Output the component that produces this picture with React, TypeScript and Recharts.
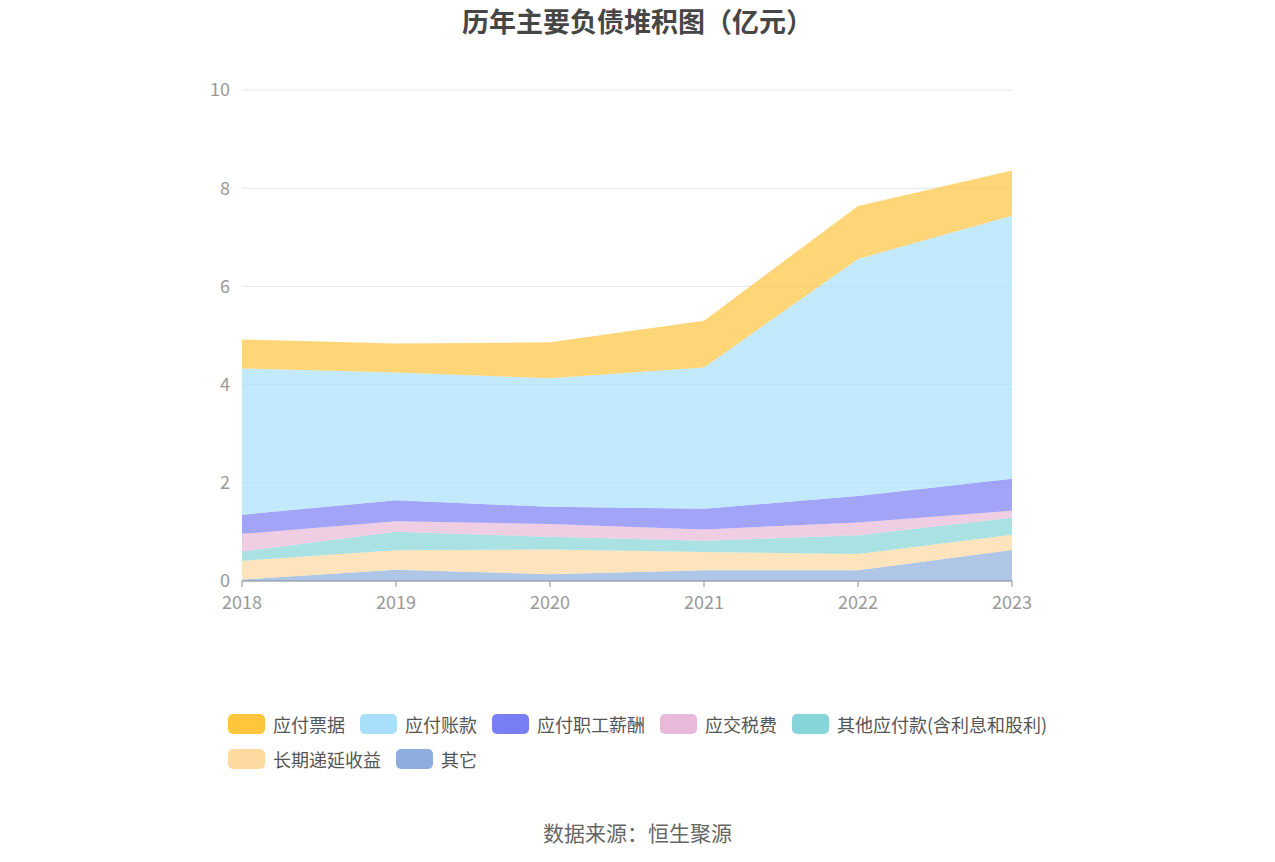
import { Area, AreaChart, CartesianGrid, XAxis, YAxis } from 'recharts';

const years = ['2018', '2019', '2020', '2021', '2022', '2023'];
const notesPayable = [0.59, 0.59, 0.73, 0.95, 1.08, 0.92];
const accountsPayable = [2.98, 2.6, 2.62, 2.88, 4.83, 5.36];
const staffPay = [0.39, 0.43, 0.35, 0.42, 0.54, 0.65];
const taxes = [0.36, 0.21, 0.26, 0.23, 0.26, 0.14];
const otherPayables = [0.19, 0.38, 0.26, 0.23, 0.38, 0.35];
const deferredIncome = [0.38, 0.395, 0.5, 0.37, 0.33, 0.31];
const others = [0.03, 0.23, 0.14, 0.22, 0.22, 0.63];
const yTicks = [0, 2, 4, 6, 8, 10];

const series = [
  { key: 'others', name: '其它', color: '#8daedc', values: others },
  { key: 'deferredIncome', name: '长期递延收益', color: '#fed9a0', values: deferredIncome },
  { key: 'otherPayables', name: '其他应付款(含利息和股利)', color: '#86d5d8', values: otherPayables },
  { key: 'taxes', name: '应交税费', color: '#e8b9d9', values: taxes },
  { key: 'staffPay', name: '应付职工薪酬', color: '#7a7ef5', values: staffPay },
  { key: 'accountsPayable', name: '应付账款', color: '#a8e0fb', values: accountsPayable },
  { key: 'notesPayable', name: '应付票据', color: '#ffc53d', values: notesPayable }
];

const legendRows = [
  ['notesPayable', 'accountsPayable', 'staffPay', 'taxes', 'otherPayables'],
  ['deferredIncome', 'others']
];

const data = years.map((year, i) => {
  const row: Record<string, number | string> = { year };
  series.forEach((s) => {
    row[s.key] = s.values[i];
  });
  return row;
});

const font = '"Noto Sans CJK SC", "Noto Sans", sans-serif';

export default function App() {
  return (
    <div style={{ position: 'absolute', left: 0, top: 0, width: 1275, height: 862, fontFamily: font, background: '#fff' }}>
      <div style={{ position: 'absolute', top: 2, width: 1275, textAlign: 'center', fontSize: 27, lineHeight: '38px', fontWeight: 'bold', color: '#464646' }}>
        历年主要负债堆积图（亿元）
      </div>
      <AreaChart width={1275} height={862} data={data} margin={{ top: 90, right: 263, left: 182, bottom: 251 }}>
        <CartesianGrid vertical={false} stroke="#e0e6f1" />
        <XAxis
          dataKey="year"
          height={30}
          stroke="#8a8f99"
          tickSize={6}
          tickMargin={9}
          tick={{ fill: '#999', fontSize: 18, fontFamily: font }}
        />
        <YAxis
          width={60}
          domain={[0, 10]}
          ticks={yTicks}
          axisLine={false}
          tickLine={false}
          tickMargin={6}
          tick={{ fill: '#999', fontSize: 18, fontFamily: font }}
        />
        {series.map((s) => (
          <Area
            key={s.key}
            type="linear"
            dataKey={s.key}
            name={s.name}
            stackId="a"
            stroke="none"
            fill={s.color}
            fillOpacity={0.7}
            isAnimationActive={false}
          />
        ))}
      </AreaChart>
      <div style={{ position: 'absolute', left: 228, top: 706, width: 900 }}>
        {legendRows.map((row, r) => (
          <div key={r} style={{ display: 'flex', height: 35, alignItems: 'center' }}>
            {row.map((k) => {
              const s = series.find((x) => x.key === k)!;
              return (
                <div key={k} style={{ display: 'flex', alignItems: 'center', marginRight: 15 }}>
                  <span style={{ width: 37, height: 20, borderRadius: 5, background: s.color, display: 'inline-block', marginRight: 8 }} />
                  <span style={{ fontSize: 18, color: '#555' }}>{s.name}</span>
                </div>
              );
            })}
          </div>
        ))}
      </div>
      <div style={{ position: 'absolute', top: 818, width: 1275, textAlign: 'center', fontSize: 21, lineHeight: '28px', color: '#666' }}>
        数据来源：恒生聚源
      </div>
    </div>
  );
}
